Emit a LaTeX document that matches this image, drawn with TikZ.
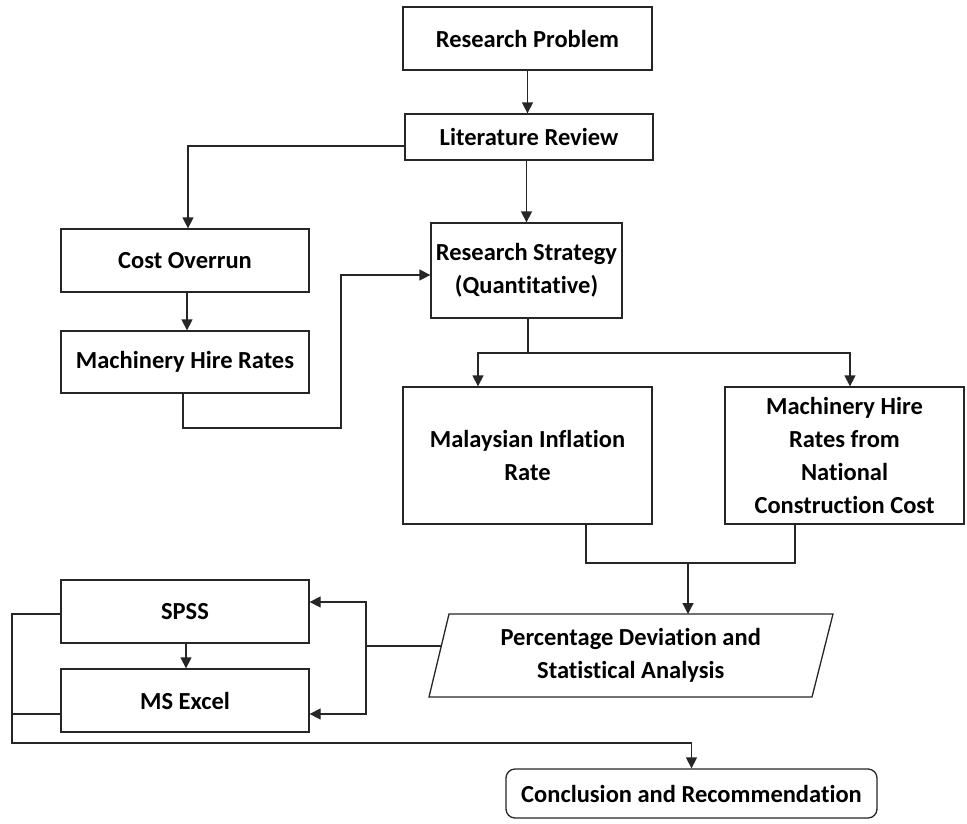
\documentclass[tikz,border=0pt]{standalone}
\usepackage{fontspec}
\setmainfont{Carlito}[Ligatures=NoCommon]
\usetikzlibrary{arrows.meta,calc}
\begin{document}
\begin{tikzpicture}[x=1pt,y=-1pt,
  line width=1.3pt, draw=black!85,
  box/.style={draw=black!85, line width=1.3pt, rectangle, inner sep=0pt, align=center,
    font=\fontsize{24.5}{33}\selectfont\bfseries, text=black},
  arr/.style={draw=black!85, -{Triangle[length=11pt,width=11pt]}},
  ln/.style={draw=black!85}]
\useasboundingbox[fill=white] (0,0) rectangle (967,823);

\node[box, minimum width=249pt, minimum height=63pt] (RP) at (527.5,38.5) {Research Problem};
\node[box, minimum width=248pt, minimum height=46pt] (LR) at (529,137) {Literature Review};
\node[box, minimum width=248pt, minimum height=63pt] (CO) at (185,260.5) {Cost Overrun};
\node[box, minimum width=248pt, minimum height=62pt] (MHR) at (185,362) {Machinery Hire Rates};
\node[box, minimum width=191pt, minimum height=95pt] (RS) at (526.5,270.5) {Research Strategy\\(Quantitative)};
\node[box, minimum width=249pt, minimum height=137pt] (MIR) at (527.5,455.5) {Malaysian Inflation\\Rate};
\node[box, minimum width=239pt, minimum height=137pt] (NCC) at (844.5,455.5) {Machinery Hire\\Rates from\\National\\Construction Cost};

% parallelogram
\coordinate (ptl) at (449,614);
\coordinate (ptr) at (833,614);
\coordinate (pbr) at (812,697);
\coordinate (pbl) at (429,697);
\draw[ln, line width=1.3pt] (ptl) -- (ptr) -- (pbr) -- (pbl) -- cycle;
\node[box, draw=none] (PD) at (630.75,655.5) {Percentage Deviation and\\Statistical Analysis};
\coordinate (pin) at (688,614);
\coordinate (pleft) at (441,646);

\node[box, minimum width=248pt, minimum height=63pt] (SPSS) at (185,611.5) {SPSS};
\node[box, minimum width=248pt, minimum height=63pt] (EX) at (185,700.5) {MS Excel};
\node[box, rounded corners=9pt, minimum width=371pt, minimum height=49pt] (CR) at (691.5,793.5) {Conclusion and Recommendation};

% connectors
\draw[arr] (RP.south) -- (RP.south |- LR.north);
\draw[arr] ([yshift=-9pt]LR.west) -| ([xshift=3pt]CO.north);
\draw[arr] (RS.north |- LR.south) -- (RS.north);
\draw[arr] ([xshift=2pt]CO.south) -- ([xshift=2pt]MHR.north);

\coordinate (k1) at (341,428);
\draw[arr] ([xshift=-2pt]MHR.south) |- (k1) |- ([yshift=-4.5pt]RS.west);

\coordinate (split) at (528,353);
\draw[ln] (split |- RS.south) -- (split);
\draw[arr] (split) -| ([xshift=-49.5pt]MIR.north);
\draw[arr] (split) -| ([xshift=5.5pt]NCC.north);

\coordinate (join) at (688,563);
\draw[ln] ([xshift=58.5pt]MIR.south) |- (join);
\draw[ln] ([xshift=-49.5pt]NCC.south) |- (join);
\draw[arr] (join) -- (pin);

\coordinate (k2) at (366,646);
\draw[ln] (pleft) -- (k2);
\draw[arr] (k2) |- ([yshift=9.5pt]SPSS.east);
\draw[arr] (k2) |- ([yshift=-13.5pt]EX.east);

\draw[arr] ([xshift=1pt]SPSS.south) -- ([xshift=1pt]EX.north);

\coordinate (lb) at (12,743);
\draw[arr] ([yshift=-2.5pt]SPSS.west) -| (lb) -| (CR.north);
\draw[ln] ([yshift=-13.5pt]EX.west) -- (lb |- 0,714);
\end{tikzpicture}
\end{document}
